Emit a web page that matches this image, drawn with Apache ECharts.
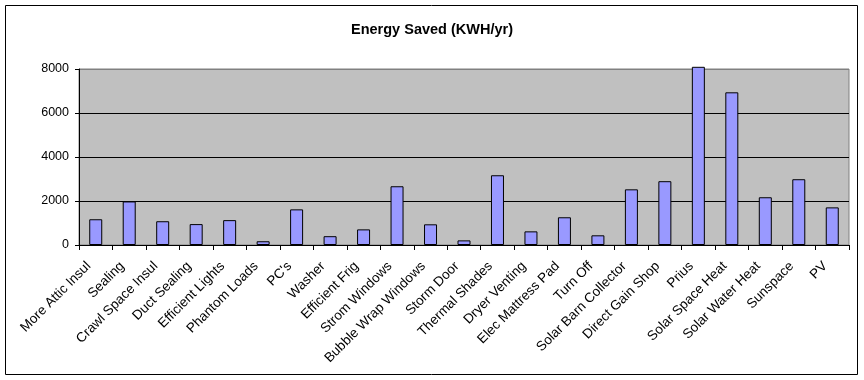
<!DOCTYPE html>
<html>
<head>
<meta charset="utf-8">
<script src="https://cdn.jsdelivr.net/npm/echarts@6/dist/echarts.min.js"></script>
<style>
html,body{margin:0;padding:0;background:#fff;}
#chart{width:864px;height:380px;}
</style>
</head>
<body>
<div id="chart"></div>
<script>
var categories = ["More Attic Insul","Sealing","Crawl Space Insul","Duct Sealing","Efficient Lights","Phantom Loads","PC's","Washer","Efficient Frig","Strom Windows","Bubble Wrap Windows","Storm Door","Thermal Shades","Dryer Venting","Elec Mattress Pad","Turn Off","Solar Barn Collector","Direct Gain Shop","Prius","Solar Space Heat","Solar Water Heat","Sunspace","PV"];
var energySaved = [1170,1980,1080,950,1130,170,1620,400,710,2670,940,210,3170,620,1260,440,2530,2900,8100,6940,2170,2990,1710];
var yTicks = [0,2000,4000,6000,8000];

var chart = echarts.init(document.getElementById('chart'), null, {renderer:'canvas'});
var font = '"Liberation Sans", Arial, sans-serif';
chart.setOption({
  animation:false,
  backgroundColor:'#ffffff',
  title:{
    text:'Energy Saved (KWH/yr)',
    left:'center', top:17,
    textStyle:{fontFamily:font,fontSize:14.5,fontWeight:'bold',color:'#000'}
  },
  graphic:[{
    type:'rect', z:-1,
    shape:{x:5.5,y:5.5,width:852,height:369},
    style:{fill:'none',stroke:'#000',lineWidth:1}
  }],
  grid:{
    left:79, right:15, top:69, bottom:135,
    show:true, backgroundColor:'#C0C0C0', borderColor:'#808080', borderWidth:1
  },
  xAxis:{
    type:'category',
    data:categories,
    axisLine:{lineStyle:{color:'#000',width:1}},
    axisTick:{show:true,length:5,alignWithLabel:false,lineStyle:{color:'#000'}},
    axisLabel:{rotate:45,interval:0,margin:12,padding:[0,10,0,0],fontFamily:font,fontSize:13.5,color:'#000'}
  },
  yAxis:{
    type:'value',
    min:yTicks[0], max:yTicks[yTicks.length-1], interval:2000,
    axisLine:{show:true,lineStyle:{color:'#000',width:1}},
    axisTick:{show:true,length:4,lineStyle:{color:'#000'}},
    axisLabel:{margin:10,fontFamily:font,fontSize:12.5,color:'#000',formatter:function(v){return String(v);}},
    splitLine:{show:true,lineStyle:{color:['#000','#000','#000','#000','#808080'],width:1}}
  },
  series:[{
    type:'bar',
    data:energySaved,
    barWidth:13,
    clip:false,
    itemStyle:{color:'#9999FF',borderColor:'#000',borderWidth:1}
  }]
});
</script>
</body>
</html>
